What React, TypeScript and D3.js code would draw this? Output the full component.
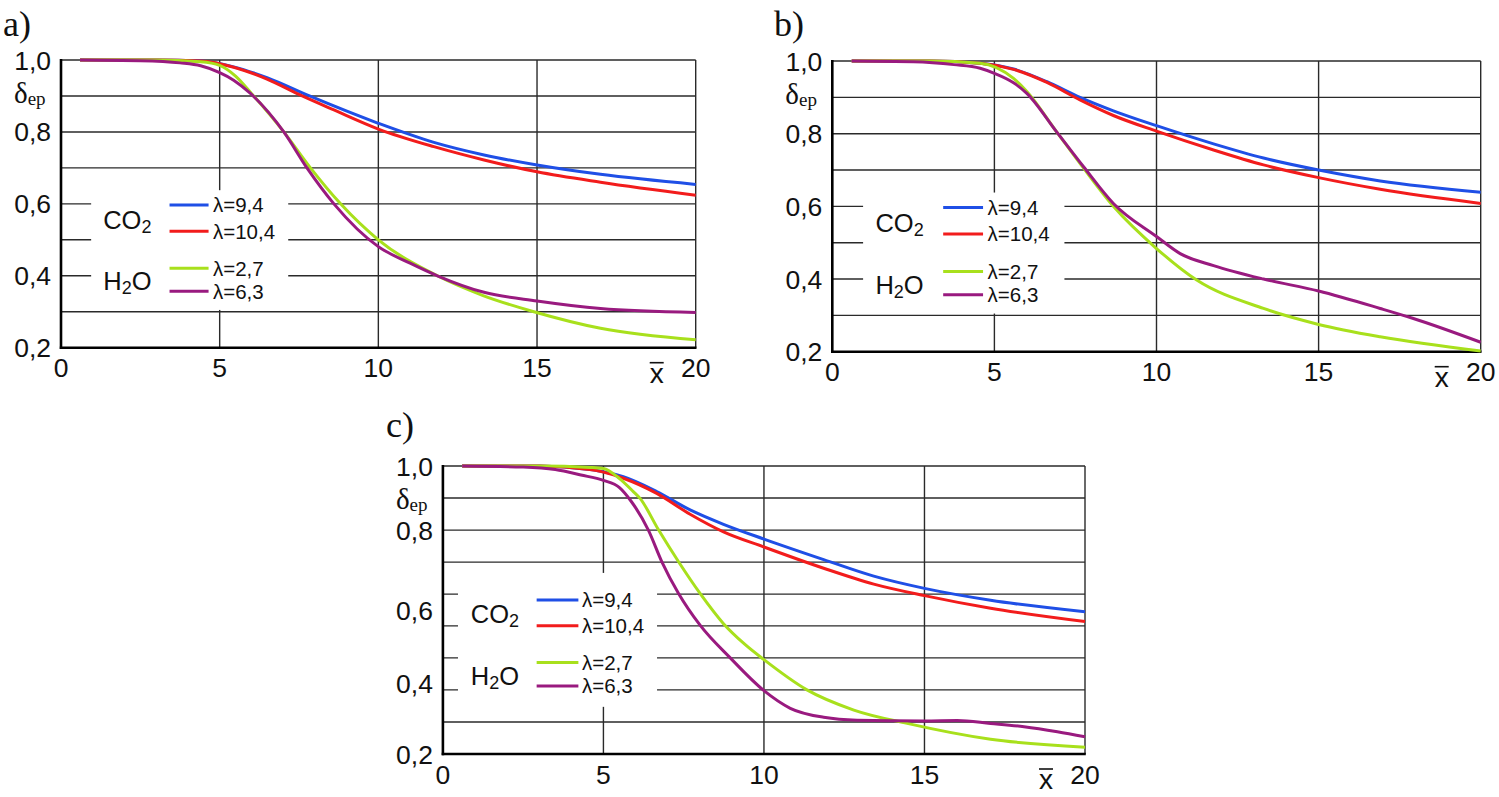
import React from 'react';
import * as d3 from 'd3';

type Pt = [number, number];

// ---------- data ----------
const X_TICKS = [0, 5, 10, 15, 20];
const X_TICK_LABELS = ['0', '5', '10', '15', '20'];
const Y_TICK_VALUES = [1.0, 0.8, 0.6, 0.4, 0.2];
const Y_TICK_LABELS = ['1,0', '0,8', '0,6', '0,4', '0,2'];
const Y_TICK_POS_C = [1.0, 0.822, 0.6, 0.397, 0.2];
const GRID_AB = [1.0, 0.9, 0.8, 0.7, 0.6, 0.5, 0.4, 0.3];
const GRID_C = [1.0, 0.911, 0.822, 0.733, 0.644, 0.556, 0.467, 0.378, 0.289];
const V_GRID = [5, 10, 15, 20];
const SERIES_LABELS = ['λ=9,4', 'λ=10,4', 'λ=2,7', 'λ=6,3'];
const GAS_LABELS = ['CO', 'H'];

// panel a
const A_BLUE: Pt[] = [[0.6, 1], [3, 1], [4.4, 0.997], [5.44, 0.981], [6.49, 0.951], [7.83, 0.9], [10, 0.824], [11.75, 0.771], [13.33, 0.736], [15, 0.708], [17, 0.682], [20, 0.654]];
const A_RED: Pt[] = [[0.6, 1], [3, 1], [4.4, 0.997], [5.44, 0.98], [6.49, 0.947], [7.6, 0.9], [8.6, 0.861], [10, 0.808], [11.75, 0.759], [13.33, 0.722], [15, 0.689], [17, 0.66], [20, 0.624]];
const A_GREEN: Pt[] = [[0.6, 1], [3, 1], [4.4, 0.995], [5, 0.985], [5.5, 0.955], [6, 0.907], [7.02, 0.8], [7.86, 0.7], [8.81, 0.6], [10, 0.5], [11.86, 0.4], [13.3, 0.345], [14.9, 0.3], [17, 0.254], [20, 0.222]];
const A_PURPLE: Pt[] = [[0.6, 1], [2.5, 0.998], [3.75, 0.992], [4.4, 0.984], [5, 0.965], [5.44, 0.944], [5.97, 0.907], [7.02, 0.8], [7.75, 0.7], [8.6, 0.6], [10, 0.481], [11, 0.435], [11.86, 0.4], [13.33, 0.354], [15, 0.33], [17, 0.309], [20, 0.298]];

// panel b
const B_BLUE: Pt[] = [[0.6, 1], [3, 1], [4.56, 0.994], [5.59, 0.978], [6.62, 0.943], [7.64, 0.9], [8.67, 0.863], [10, 0.822], [11.76, 0.772], [13.3, 0.733], [15, 0.7], [16.9, 0.67], [20, 0.639]];
const B_RED: Pt[] = [[0.6, 1], [3, 1], [4.56, 0.994], [5.59, 0.977], [6.62, 0.941], [7.64, 0.893], [8.67, 0.85], [10, 0.807], [11.76, 0.755], [13.3, 0.714], [15, 0.679], [16.9, 0.647], [20, 0.608]];
const B_GREEN: Pt[] = [[0.6, 1], [3, 1], [4.56, 0.994], [5.59, 0.952], [6, 0.916], [6.92, 0.805], [7.75, 0.705], [8.67, 0.6], [10, 0.484], [11.24, 0.397], [13.3, 0.319], [15, 0.275], [16.9, 0.241], [20, 0.202]];
const B_PURPLE: Pt[] = [[0.6, 1], [2.5, 0.998], [3.75, 0.99], [4.56, 0.98], [5, 0.966], [5.59, 0.94], [6, 0.911], [6.92, 0.805], [7.75, 0.709], [8.67, 0.608], [10, 0.517], [10.73, 0.47], [11.76, 0.437], [13.3, 0.4], [15, 0.367], [16.9, 0.319], [17.9, 0.292], [20, 0.226]];

// panel c
const C_BLUE: Pt[] = [[0.6, 1], [3, 1], [4.58, 0.99], [5, 0.984], [5.62, 0.97], [6.66, 0.929], [7.7, 0.878], [8.74, 0.838], [10, 0.797], [11.86, 0.74], [13.42, 0.694], [15, 0.66], [17.06, 0.627], [20, 0.595]];
const C_RED: Pt[] = [[0.6, 1], [3, 1], [4.58, 0.99], [5, 0.983], [5.62, 0.966], [6.66, 0.924], [7.7, 0.866], [8.74, 0.817], [10, 0.775], [11.86, 0.716], [13.42, 0.672], [15, 0.64], [17.06, 0.605], [20, 0.568]];
const C_GREEN: Pt[] = [[0.6, 1], [3, 1], [4.58, 0.996], [5, 0.993], [5.5, 0.965], [5.93, 0.929], [6.14, 0.91], [6.72, 0.822], [7.34, 0.734], [8.01, 0.646], [8.74, 0.562], [9.4, 0.505], [10, 0.462], [11.34, 0.378], [12.8, 0.322], [14.46, 0.285], [17.06, 0.241], [20, 0.219]];
const C_PURPLE: Pt[] = [[0.6, 1], [2.5, 0.997], [3.5, 0.99], [4.3, 0.975], [5, 0.96], [5.5, 0.94], [5.88, 0.9], [6.4, 0.822], [6.82, 0.734], [7.34, 0.646], [8.01, 0.558], [8.95, 0.467], [10, 0.376], [10.82, 0.327], [11.86, 0.302], [12.9, 0.294], [15, 0.292], [16.02, 0.293], [17.06, 0.285], [18.1, 0.276], [19.14, 0.262], [20, 0.248]];

// ---------- styles / layout ----------
const COLORS = ['#1f4fe6', '#f21c1c', '#a8e01c', '#991a7f'];
const SANS = '"Liberation Sans", Arial, Helvetica, sans-serif';
const SERIF = '"Liberation Serif", "Times New Roman", serif';

type Legend = {
  box: [number, number, number, number];
  lineX: [number, number];
  labelX: number;
  lineY: number[];
  gasX: number;
  gasY: [number, number];
};

type PanelCfg = {
  title: string;
  titleX: number;
  titleY: number;
  left: number;
  right: number;
  top: number;
  bottom: number;
  grid: number[];
  yTickPos: number[];
  series: Pt[][];
  legend: Legend;
};

const LEGEND_AB: Legend = {
  box: [0.95, 7.16, 0.305, 0.638],
  lineX: [3.42, 4.65],
  labelX: 4.79,
  lineY: [0.597, 0.524, 0.421, 0.357],
  gasX: 1.33,
  gasY: [0.53, 0.36],
};

const LEGEND_C: Legend = {
  box: [0.47, 6.67, 0.331, 0.703],
  lineX: [2.92, 4.22],
  labelX: 4.33,
  lineY: [0.628, 0.556, 0.454, 0.389],
  gasX: 0.87,
  gasY: [0.564, 0.392],
};

const PANELS: PanelCfg[] = [
  { title: 'a)', titleX: 3, titleY: 36, left: 61, right: 695.7, top: 60, bottom: 347.7, grid: GRID_AB, yTickPos: Y_TICK_VALUES, series: [A_BLUE, A_RED, A_GREEN, A_PURPLE], legend: LEGEND_AB },
  { title: 'b)', titleX: 774, titleY: 36, left: 832.3, right: 1480.7, top: 61, bottom: 351.7, grid: GRID_AB, yTickPos: Y_TICK_VALUES, series: [B_BLUE, B_RED, B_GREEN, B_PURPLE], legend: LEGEND_AB },
  { title: 'c)', titleX: 386, titleY: 437, left: 442.9, right: 1085, top: 466, bottom: 754, grid: GRID_C, yTickPos: Y_TICK_POS_C, series: [C_BLUE, C_RED, C_GREEN, C_PURPLE], legend: LEGEND_C },
];

function Panel({ cfg }: { cfg: PanelCfg }) {
  const x = d3.scaleLinear().domain([0, 20]).range([cfg.left, cfg.right]);
  const y = d3.scaleLinear().domain([0.2, 1]).range([cfg.bottom, cfg.top]);
  const line = d3
    .line<Pt>()
    .x((d) => x(d[0]))
    .y((d) => y(d[1]))
    .curve(d3.curveMonotoneX);
  const lg = cfg.legend;
  const gridColor = '#2a2a2a';

  return (
    <g>
      <text x={cfg.titleX} y={cfg.titleY} fontFamily={SERIF} fontSize={36} fill="#111">
        {cfg.title}
      </text>

      {V_GRID.map((v) => (
        <line key={'v' + v} x1={x(v)} x2={x(v)} y1={y(1)} y2={y(0.2)} stroke={gridColor} strokeWidth={1.4} />
      ))}
      {cfg.grid.map((g) => (
        <line key={'h' + g} x1={x(0)} x2={x(20)} y1={y(g)} y2={y(g)} stroke={gridColor} strokeWidth={1.4} />
      ))}

      <rect
        x={x(lg.box[0])}
        y={y(lg.box[3])}
        width={x(lg.box[1]) - x(lg.box[0])}
        height={y(lg.box[2]) - y(lg.box[3])}
        fill="#fff"
      />

      <line x1={x(0)} x2={x(0)} y1={y(1) - 1} y2={y(0.2) + 1.2} stroke="#000" strokeWidth={2.6} />
      <line x1={x(0) - 1.2} x2={x(20) + 0.8} y1={y(0.2)} y2={y(0.2)} stroke="#000" strokeWidth={2.6} />

      {cfg.series.map((s, i) => (
        <path key={'s' + i} d={line(s) || ''} fill="none" stroke={COLORS[i]} strokeWidth={3} />
      ))}

      {SERIES_LABELS.map((lab, i) => (
        <g key={'l' + i}>
          <line x1={x(lg.lineX[0])} x2={x(lg.lineX[1])} y1={y(lg.lineY[i])} y2={y(lg.lineY[i])} stroke={COLORS[i]} strokeWidth={3} />
          <text x={x(lg.labelX)} y={y(lg.lineY[i]) + 7.5} fontFamily={SANS} fontSize={20.5} fill="#111">
            {lab}
          </text>
        </g>
      ))}
      <text x={x(lg.gasX)} y={y(lg.gasY[0])} fontFamily={SANS} fontSize={25.5} fill="#111">
        {GAS_LABELS[0]}
        <tspan fontSize={18} dy={4}>2</tspan>
      </text>
      <text x={x(lg.gasX)} y={y(lg.gasY[1])} fontFamily={SANS} fontSize={25.5} fill="#111">
        {GAS_LABELS[1]}
        <tspan fontSize={18} dy={4}>2</tspan>
        <tspan dy={-4}>O</tspan>
      </text>

      {Y_TICK_LABELS.map((lab, i) => (
        <text key={'y' + i} x={x(0) - 10} y={y(cfg.yTickPos[i]) + 9.5} textAnchor="end" fontFamily={SANS} fontSize={26.5} fill="#111">
          {lab}
        </text>
      ))}
      <text x={x(0) - 47} y={cfg.top + 43} fontFamily={SERIF} fontSize={29} fill="#111">
        δ<tspan fontSize={19} dy={2}>ep</tspan>
      </text>

      {X_TICKS.map((t, i) => (
        <text key={'x' + i} x={x(t)} y={cfg.bottom + 29.5} textAnchor="middle" fontFamily={SANS} fontSize={26.5} fill="#111">
          {X_TICK_LABELS[i]}
        </text>
      ))}
      <line x1={x(20) - 46} x2={x(20) - 32} y1={cfg.bottom + 15} y2={cfg.bottom + 15} stroke="#111" strokeWidth={1.6} />
      <text x={x(20) - 39} y={cfg.bottom + 35} textAnchor="middle" fontFamily={SANS} fontSize={28} fill="#111">
        x
      </text>
    </g>
  );
}

export default function App() {
  return (
    <svg
      width={1499}
      height={797}
      viewBox="0 0 1499 797"
      style={{ position: 'absolute', left: 0, top: 0, background: '#fff' }}
    >
      <rect x={0} y={0} width={1499} height={797} fill="#fff" />
      {PANELS.map((p) => (
        <Panel key={p.title} cfg={p} />
      ))}
    </svg>
  );
}
